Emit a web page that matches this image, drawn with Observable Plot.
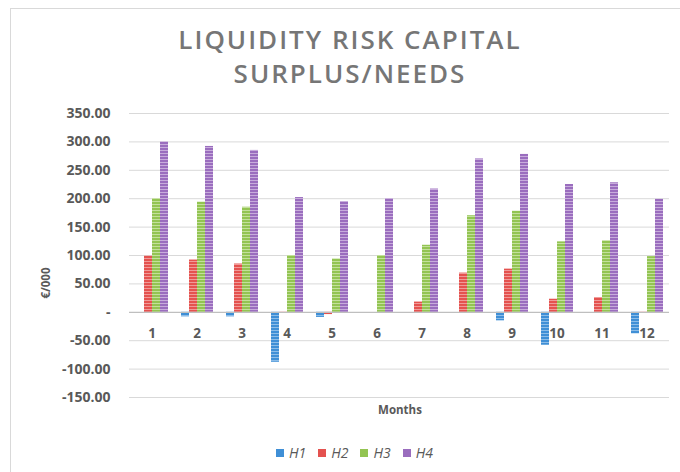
<!DOCTYPE html>
<html>
<head>
<meta charset="utf-8">
<script src="https://cdn.jsdelivr.net/npm/d3@7"></script>
<script src="https://cdn.jsdelivr.net/npm/@observablehq/plot@0.6"></script>
<style>
  html, body { margin: 0; padding: 0; background: #fff; }
  body { width: 680px; height: 472px; position: relative; overflow: hidden; font-family: "Open Sans", sans-serif; }
  #frame { position: absolute; left: 10px; top: 8px; width: 700px; height: 500px; border: 1px solid #d9d9d9; box-sizing: border-box; }
  #title { position: absolute; left: 0; width: 700px; top: 22px; text-align: center; color: #767676; font-size: 26px; font-weight: 600; letter-spacing: 2px; line-height: 34px; }
  #chart { position: absolute; left: 0; top: 100px; }
  #ylab { position: absolute; left: 45px; top: 283px; transform: translate(-50%, -50%) rotate(-90deg); font-size: 11.5px; font-weight: 700; color: #595959; white-space: nowrap; }
  #xlab { position: absolute; left: 400px; top: 409px; transform: translate(-50%, -50%); font-size: 11.5px; font-weight: 700; color: #595959; }
  #legend { position: absolute; top: 443px; left: 276px; display: flex; gap: 12px; font-size: 14px; font-style: italic; color: #595959; }
  #legend span.item { display: flex; align-items: center; gap: 5px; }
  #legend span.sw { display: inline-block; width: 8px; height: 8px; }
</style>
</head>
<body>
<div id="frame"></div>
<div id="title">LIQUIDITY RISK CAPITAL<br>SURPLUS/NEEDS</div>
<div id="chart"></div>
<div id="ylab">€/000</div>
<div id="xlab">Months</div>
<div id="legend"></div>
<script>
const months = [1, 2, 3, 4, 5, 6, 7, 8, 9, 10, 11, 12];
const seriesNames = ["H1", "H2", "H3", "H4"];
const H1 = [0, -8, -8, -88, -9, 0, 0, 0, -15, -58, 0, -38];
const H2 = [99, 92, 85, -1, -4, 0, 18, 69, 76, 23, 26, -1];
const H3 = [200, 194, 185, 100, 94, 100, 118, 170, 178, 124, 126, 98];
const H4 = [300, 292, 285, 202, 195, 200, 217, 270, 278, 225, 228, 199];
const yTicks = [-150, -100, -50, 0, 50, 100, 150, 200, 250, 300, 350];
const colors = ["#3f8fd6", "#e4524f", "#93c452", "#9a6dbe"];
const stripes = ["#8dbde8", "#f09a98", "#c3e09c", "#c8acdc"];

const values = [H1, H2, H3, H4];
const data = [];
months.forEach((m, i) => seriesNames.forEach((s, j) => data.push({month: m, series: s, value: values[j][i]})));

const chart = Plot.plot({
  width: 680,
  height: 320,
  marginLeft: 125,
  marginRight: 7,
  marginTop: 13,
  marginBottom: 23,
  style: {fontFamily: "Open Sans, sans-serif", fontSize: "14px", fontWeight: "bold", color: "#595959", background: "transparent"},
  fx: {domain: months, padding: 0, axis: null, label: null},
  x: {domain: seriesNames, paddingInner: 0, paddingOuter: 0.69, axis: null, label: null},
  y: {domain: [-150, 350], ticks: yTicks, tickSize: 0, tickPadding: 19, label: null,
      tickFormat: d => d === 0 ? "-" : d.toFixed(2)},
  color: {domain: seriesNames, range: colors},
  marks: [
    Plot.ruleY(yTicks.filter(d => d !== 0), {stroke: "#d9d9d9", strokeWidth: 1}),
    Plot.barY(data, {fx: "month", x: "series", y: "value", fill: "series"}),
    Plot.ruleY([0], {stroke: "#bfbfbf", strokeWidth: 1.2}),
    Plot.text(months, {fx: d => d, y: () => 0, text: d => String(d), dy: 21, lineAnchor: "middle",
      fontSize: 13.5, fontWeight: "bold", fill: "#595959"})
  ]
});
document.getElementById("chart").appendChild(chart);

// striped fills like the original (swap bar fills first, then add the pattern defs)
chart.querySelectorAll("rect").forEach(r => {
  const f = (r.getAttribute("fill") || "").toLowerCase();
  const k = colors.indexOf(f);
  if (k >= 0) r.setAttribute("fill", "url(#pat" + seriesNames[k] + ")");
});
const ns = "http://www.w3.org/2000/svg";
const defs = document.createElementNS(ns, "defs");
seriesNames.forEach((s, i) => {
  const p = document.createElementNS(ns, "pattern");
  p.setAttribute("id", "pat" + s);
  p.setAttribute("patternUnits", "userSpaceOnUse");
  p.setAttribute("width", "8");
  p.setAttribute("height", "3");
  const r1 = document.createElementNS(ns, "rect");
  r1.setAttribute("width", "8"); r1.setAttribute("height", "3"); r1.setAttribute("fill", colors[i]);
  const r2 = document.createElementNS(ns, "rect");
  r2.setAttribute("y", "2"); r2.setAttribute("width", "8"); r2.setAttribute("height", "1"); r2.setAttribute("fill", stripes[i]);
  p.appendChild(r1); p.appendChild(r2);
  defs.appendChild(p);
});
chart.insertBefore(defs, chart.firstChild);

const legend = document.getElementById("legend");
seriesNames.forEach((s, i) => {
  const item = document.createElement("span");
  item.className = "item";
  const sw = document.createElement("span");
  sw.className = "sw";
  sw.style.background = colors[i];
  const t = document.createElement("span");
  t.textContent = s;
  item.appendChild(sw); item.appendChild(t);
  legend.appendChild(item);
});
</script>
</body>
</html>
